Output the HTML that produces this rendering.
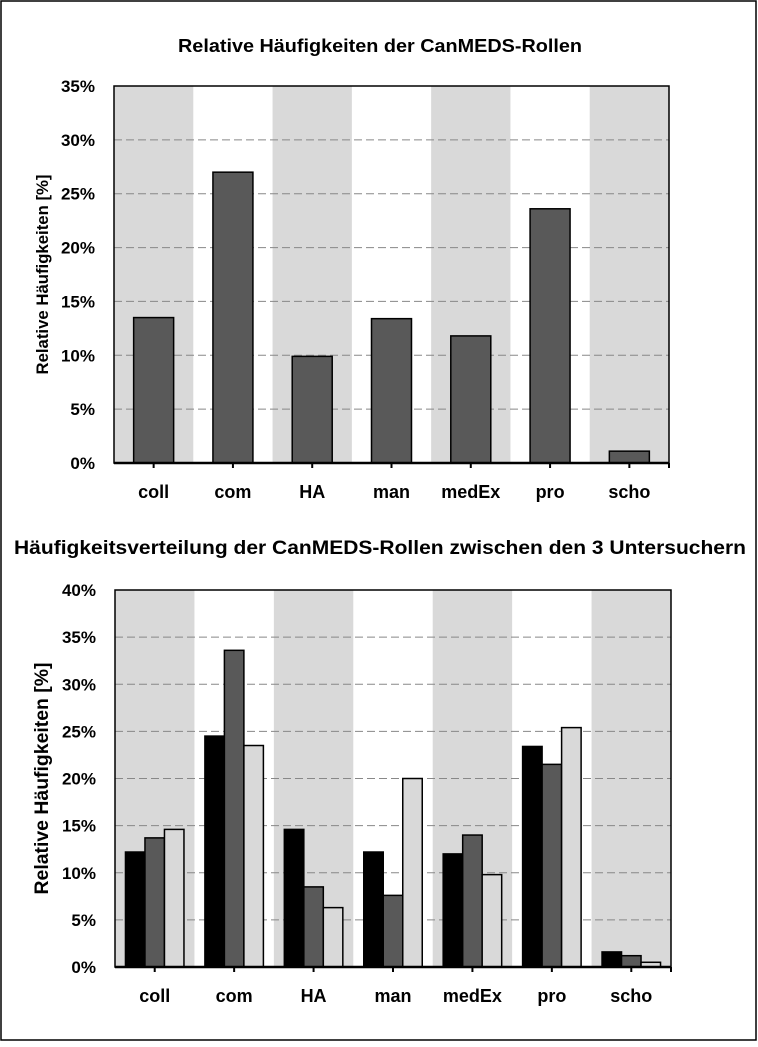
<!DOCTYPE html>
<html><head><meta charset="utf-8"><style>
body{margin:0;background:#fff}
svg text{font-family:"Liberation Sans",sans-serif;fill:#000}
</style></head><body>
<svg width="758" height="1042" id="fig">
<rect x="1" y="1" width="755" height="1039" fill="#fff" stroke="#000" stroke-width="1.5"/>
<text x="380" y="52" text-anchor="middle" font-size="18" font-weight="bold" textLength="404" lengthAdjust="spacingAndGlyphs">Relative Häufigkeiten der CanMEDS-Rollen</text>
<text x="380" y="554" text-anchor="middle" font-size="19" font-weight="bold" textLength="732" lengthAdjust="spacingAndGlyphs">Häufigkeitsverteilung der CanMEDS-Rollen zwischen den 3 Untersuchern</text>
<g id="c1"></g>
<g id="c2"></g>
</svg>
<script>
const categories = ["coll","com","HA","man","medEx","pro","scho"];
const overallValues = [13.5,27.0,9.9,13.4,11.8,23.6,1.1];
const examiner1 = [12.2,24.5,14.6,12.2,12.0,23.4,1.6];
const examiner2 = [13.7,33.6,8.5,7.6,14.0,21.5,1.2];
const examiner3 = [14.6,23.5,6.3,20.0,9.8,25.4,0.5];
const ticks1 = [0,5,10,15,20,25,30,35];
const ticks2 = [0,5,10,15,20,25,30,35,40];
const NS="http://www.w3.org/2000/svg";
function mk(p,t,a){const e=document.createElementNS(NS,t);for(const k in a)e.setAttribute(k,a[k]);p.appendChild(e);return e;}
function chart(g,L,R,T,B,max,ticks,series,fills,yTitleX,titleFont,titleLen){
  const n=categories.length, cw=(R-L)/n;
  const y=v=>B-(v/max)*(B-T);
  const x=i=>L+i*cw;
  for(let i=0;i<n;i+=2){const r=mk(g,'rect',{x:x(i),y:T,width:cw,height:B-T,fill:'#d9d9d9'});
    
    }
  ticks.forEach(t=>{
    if(t>0&&t<max){const l=mk(g,'line',{x1:L,x2:R,y1:y(t),y2:y(t),stroke:'#888','stroke-dasharray':'8,4','stroke-width':1});
      
      }
    const tx=mk(g,'text',{x:L-19,y:y(t)+6,'text-anchor':'end','font-size':17,'font-weight':'bold'});
    tx.textContent=t+'%';
    
    
  });
  const k=series.length, bw=(series.length===1?40:19.5), gw=bw*k, off=(cw-gw)/2;
  categories.forEach((c,i)=>{
    series.forEach((s,j)=>{
      const r=mk(g,'rect',{x:x(i)+off+j*bw,y:y(s[i]),width:bw,height:B-y(s[i]),fill:fills[j],stroke:'#000','stroke-width':1.5});
      
      
    });
    const tl=mk(g,'line',{x1:x(i)+cw/2,x2:x(i)+cw/2,y1:B,y2:B+5,stroke:'#000','stroke-width':2});
    
    
    const tx=mk(g,'text',{x:x(i)+cw/2,y:B+35,'text-anchor':'middle','font-size':18,'font-weight':'bold'});
    tx.textContent=c;
    
    
  });
  const fr=mk(g,'rect',{x:L,y:T,width:R-L,height:B-T,fill:'none',stroke:'#000','stroke-width':1.5});
  
  
  const ax=mk(g,'line',{x1:L,x2:R,y1:B,y2:B,stroke:'#000','stroke-width':2.5});
  
  
  const et=mk(g,'line',{x1:R,x2:R,y1:B,y2:B+5,stroke:'#000','stroke-width':2});
  
  
  const yt=mk(g,'text',{x:0,y:0,'text-anchor':'middle','font-size':titleFont,'font-weight':'bold',textLength:titleLen,lengthAdjust:'spacingAndGlyphs',transform:`translate(${yTitleX},${(T+B)/2}) rotate(-90)`});
  yt.textContent='Relative Häufigkeiten [%]';
  
  
}
chart(document.getElementById('c1'),114,669,86,463,35,ticks1,[overallValues],['#595959'],48,17,200);
chart(document.getElementById('c2'),115,671,590,967,40,ticks2,[examiner1,examiner2,examiner3],['#000','#595959','#d9d9d9'],48,19,232);
</script>
</body></html>
